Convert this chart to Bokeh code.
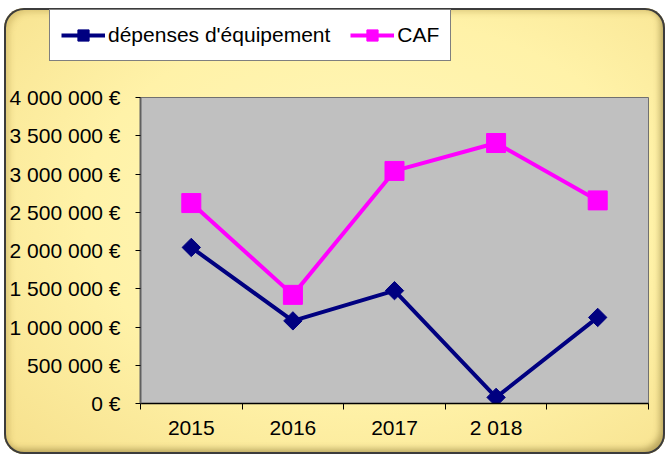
import math
from bokeh.plotting import figure
from bokeh.layouts import column
from bokeh.models import (FactorRange, Range1d, LinearAxis, FixedTicker, CustomJSTickFormatter,
                          Legend, LegendItem, ColumnDataSource)
from bokeh.embed import file_html
from bokeh.resources import INLINE

# ---- data ----
years = ["2015", "2016", "2017", "2 018", " "]
depenses = [2040000, 1080000, 1475000, 80000, 1125000]
caf = [2620000, 1420000, 3040000, 3405000, 2655000]
y_ticks = [0, 500000, 1000000, 1500000, 2000000, 2500000, 3000000, 3500000, 4000000]
label_dep = "dépenses d'équipement"
label_caf = "CAF"

FONT = "Liberation Sans"
NAVY = "#000080"
MAGENTA = "#FF00FF"

src = ColumnDataSource(dict(x=years, dep=depenses, caf=caf))

W = 661
LEG_H = 60
MAIN_H = 446 - LEG_H

# ---------- main chart ----------
p = figure(width=W, height=MAIN_H, x_range=FactorRange(*years), y_range=Range1d(0, 4000000),
           output_backend="svg", toolbar_location=None,
           min_border_left=136, min_border_right=17, min_border_top=89 - LEG_H, min_border_bottom=51)
p.frame_align = False
p.background_fill_color = "#C0C0C0"
p.border_fill_alpha = 0
p.outline_line_color = "#707070"
p.outline_line_width = 1
p.xgrid.visible = False
p.ygrid.visible = False

yax = p.yaxis[0]
yax.ticker = FixedTicker(ticks=y_ticks)
yax.formatter = CustomJSTickFormatter(code="""
    return String(Math.round(tick)).replace(/\\B(?=(\\d{3})+(?!\\d))/g, ' ') + ' €';
""")
yax.major_label_text_font = FONT
yax.major_label_text_font_size = "21px"
yax.major_label_text_color = "black"
yax.major_tick_out = 5
yax.major_tick_in = 0
yax.minor_tick_line_color = None
yax.major_tick_line_color = "black"
yax.axis_line_color = "#606060"
yax.axis_line_width = 2
yax.major_label_standoff = 15

tick_axis = LinearAxis(ticker=FixedTicker(ticks=list(range(len(years) + 1))),
                       major_label_text_font_size="0px", major_label_standoff=0,
                       major_tick_out=6, major_tick_in=0, minor_tick_line_color=None,
                       axis_line_color="black", axis_line_width=1.5, major_tick_line_color="black")
cat_axis = p.xaxis[0]
cat_axis.axis_line_color = None
cat_axis.major_tick_line_color = None
cat_axis.major_tick_out = 0
cat_axis.major_tick_in = 0
cat_axis.major_label_standoff = 6
cat_axis.major_label_text_font = FONT
cat_axis.major_label_text_font_size = "21px"
cat_axis.major_label_text_color = "black"
p.below = [tick_axis, cat_axis]

p.line("x", "dep", source=src, line_color=NAVY, line_width=4)
p.scatter("x", "dep", source=src, marker="square", angle=math.pi / 4, size=13,
          fill_color=NAVY, line_color=NAVY)
p.line("x", "caf", source=src, line_color=MAGENTA, line_width=4)
p.scatter("x", "caf", source=src, marker="square", size=19,
          fill_color=MAGENTA, line_color=MAGENTA)

# ---------- legend strip (same series, plotted out of view; only the legend shows) ----------
pl = figure(width=W, height=LEG_H, x_range=FactorRange(*years), y_range=Range1d(-2, -1),
            x_axis_type=None, y_axis_type=None,
            output_backend="svg", toolbar_location=None,
            min_border=0, min_border_left=0, min_border_right=0, min_border_top=0, min_border_bottom=0)
pl.frame_align = False
pl.background_fill_alpha = 0
pl.border_fill_alpha = 0
pl.outline_line_color = None
pl.xgrid.visible = False
pl.ygrid.visible = False
gl1 = pl.line("x", "dep", source=src, line_color=NAVY, line_width=4)
gs1 = pl.scatter("x", "dep", source=src, marker="square", angle=math.pi / 4, size=13,
                 fill_color=NAVY, line_color=NAVY)
gl2 = pl.line("x", "caf", source=src, line_color=MAGENTA, line_width=4)
gs2 = pl.scatter("x", "caf", source=src, marker="square", size=19,
                 fill_color=MAGENTA, line_color=MAGENTA)

legend = Legend(items=[LegendItem(label=label_dep, renderers=[gl1, gs1]),
                       LegendItem(label=label_caf, renderers=[gl2, gs2])],
                orientation="horizontal", location=(45, 7),
                label_text_font=FONT, label_text_font_size="21px", label_text_color="black",
                glyph_width=44, glyph_height=28, label_standoff=3, spacing=20, padding=11,
                margin=0, border_line_color="black", border_line_width=1,
                background_fill_color="white", background_fill_alpha=1)
pl.add_layout(legend, "center")

layout = column(pl, p, spacing=0)
layout.styles = {
    "transform": "translate(4px, 8px)",
    "border-radius": "20px",
    "background": "radial-gradient(ellipse at 55% 45%, #FFF7BC 0%, #FFF2A8 55%, #F6E08C 100%)",
    "box-shadow": "inset 0 0 0 2px #3c3c3c, inset -5px -5px 6px rgba(110,90,30,0.45), inset 5px 4px 6px rgba(150,120,40,0.30)",
}

open("out.html", "w").write(file_html(layout, INLINE))
